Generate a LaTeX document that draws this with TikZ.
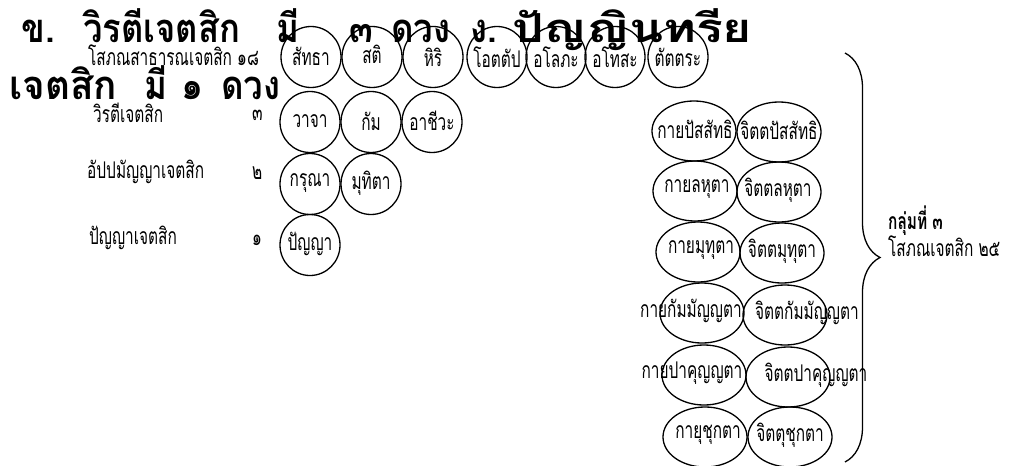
\documentclass[tikz,border=0pt]{standalone}
\usepackage{fontspec}
\usepackage{graphicx}
\newfontfamily\thaihead[Script=Thai,FakeStretch=0.87]{Loma}
\newfontfamily\thainarrow[Script=Thai,FakeStretch=0.67]{Loma}
\newcommand\fitto[2]{\resizebox{#1}{\height}{#2}}
\usetikzlibrary{shapes.geometric,decorations.pathreplacing}
\begin{document}
\begin{tikzpicture}[x=1pt,y=-1pt,
  bubble/.style={draw, line width=1.3pt, ellipse, inner sep=0pt, minimum width=60pt, minimum height=61pt},
  wide/.style={bubble, minimum width=84pt, minimum height=60pt},
  txt/.style={font=\thainarrow\fontsize{23}{25}\selectfont, inner sep=0pt},
  lbl/.style={txt, anchor=west},
  head/.style={font=\thaihead\bfseries\fontsize{40}{44}\selectfont, inner sep=0pt, anchor=base west},
  bracestyle/.style={decorate, decoration={brace, amplitude=35pt}, line width=1.3pt},
]
\useasboundingbox (0,0) rectangle (1026,466);

% heading
\node[head] (h1) at (21,42) {ข.};
\node[head] (h2) at (83,42) {\fitto{157pt}{วิรตีเจตสิก}};
\node[head] (h3) at (276,42) {มี};
\node[head] (h4) at (349,42) {๓};
\node[head] (h5) at (391,42) {ดวง};
\node[head] (h6) at (470,42) {ง.};
\node[head] (h7) at (512,42) {\fitto{240pt}{ปัญญินทรีย}};
\node[head] (h8) at (9,99) {\fitto{108pt}{เจตสิก}};
\node[head] (h9) at (144,99) {มี};
\node[head] (h10) at (181,99) {๑};
\node[head] (h11) at (221,99) {ดวง};

% left labels
\node[lbl] (l1) at (88,55) {โสภณสาธารณเจตสิก ๑๘};
\node[lbl] (l2) at (93,113) {วิรตีเจตสิก};
\node[lbl] (n2) at (252,115) {๓};
\node[lbl] (l3) at (87,172) {อัปปมัญญาเจตสิก};
\node[lbl] (n3) at (252,173) {๒};
\node[lbl] (l4) at (89,238) {ปัญญาเจตสิก};
\node[lbl] (n4) at (252,240) {๑};

% small bubbles
\node[bubble] (a1) at (311,57) {};
\node[bubble] (a2) at (372,57) {};
\node[bubble] (a3) at (433,57) {};
\node[bubble] (a4) at (497,57) {};
\node[bubble] (a5) at (556,57) {};
\node[bubble] (a6) at (615,57) {};
\node[bubble] (a7) at (678,57) {};
\node[bubble] (b1) at (310,122) {};
\node[bubble] (b2) at (371,122) {};
\node[bubble] (b3) at (432,122) {};
\node[bubble] (c1) at (310,184) {};
\node[bubble] (c2) at (371,184) {};
\node[bubble] (d1) at (310,245) {};

\node[txt] (ta1) at (311,56) {สัทธา};
\node[txt] (ta2) at (372,54) {สติ};
\node[txt] (ta3) at (433,57) {หิริ};
\node[txt] (ta4) at (497,57) {โอตตัป};
\node[txt] (ta5) at (556,57) {อโลภะ};
\node[txt] (ta6) at (615,57) {อโทสะ};
\node[txt] (ta7) at (678,57) {ตัตตระ};
\node[txt] (tb1) at (310,121) {วาจา};
\node[txt] (tb2) at (371,121) {กัม};
\node[txt] (tb3) at (432,121) {อาชีวะ};
\node[txt] (tc1) at (310,183) {กรุณา};
\node[txt] (tc2) at (371,183) {มุทิตา};
\node[txt] (td1) at (310,244) {ปัญญา};

% right bubbles
\node[wide] (e1) at (694,131) {};
\node[wide] (f1) at (779,132) {};
\node[wide] (e2) at (695,191) {};
\node[wide] (f2) at (779,192) {};
\node[wide] (e3) at (698,252) {};
\node[wide] (f3) at (782,253) {};
\node[wide] (e4) at (702,313) {};
\node[wide] (f4) at (785,315) {};
\node[wide] (e5) at (704,375) {};
\node[wide] (f5) at (788,377) {};
\node[wide] (e6) at (705,437) {};
\node[wide] (f6) at (790,437) {};

\node[txt] (te1) at (695,129) {กายปัสสัทธิ};
\node[txt] (tf1) at (779,130) {จิตตปัสสัทธิ};
\node[txt] (te2) at (697,189) {กายลหุตา};
\node[txt] (tf2) at (778,190) {จิตตลหุตา};
\node[txt] (te3) at (701,250) {กายมุทุตา};
\node[txt] (tf3) at (782,251) {จิตตมุทุตา};
\node[txt] (te4) at (691,311) {กายกัมมัญญตา};
\node[txt] (tf4) at (807,313) {จิตตกัมมัญญตา};
\node[txt] (te5) at (692,373) {กายปาคุญญตา};
\node[txt] (tf5) at (816,375) {จิตตปาคุญญตา};
\node[txt] (te6) at (708,435) {กายุชุกตา};
\node[txt] (tf6) at (790,435) {จิตตุชุกตา};

% brace
\coordinate (bt) at (845,53);
\coordinate (bb) at (845,462);
\draw[bracestyle] (bt) -- (bb);
\node[txt, anchor=west, font=\thainarrow\bfseries\fontsize{23}{25}\selectfont] (g1) at (888,221) {กลุ่มที่ ๓};
\node[lbl] (g2) at (888,246) {โสภณเจตสิก ๒๕};
\end{tikzpicture}
\end{document}
